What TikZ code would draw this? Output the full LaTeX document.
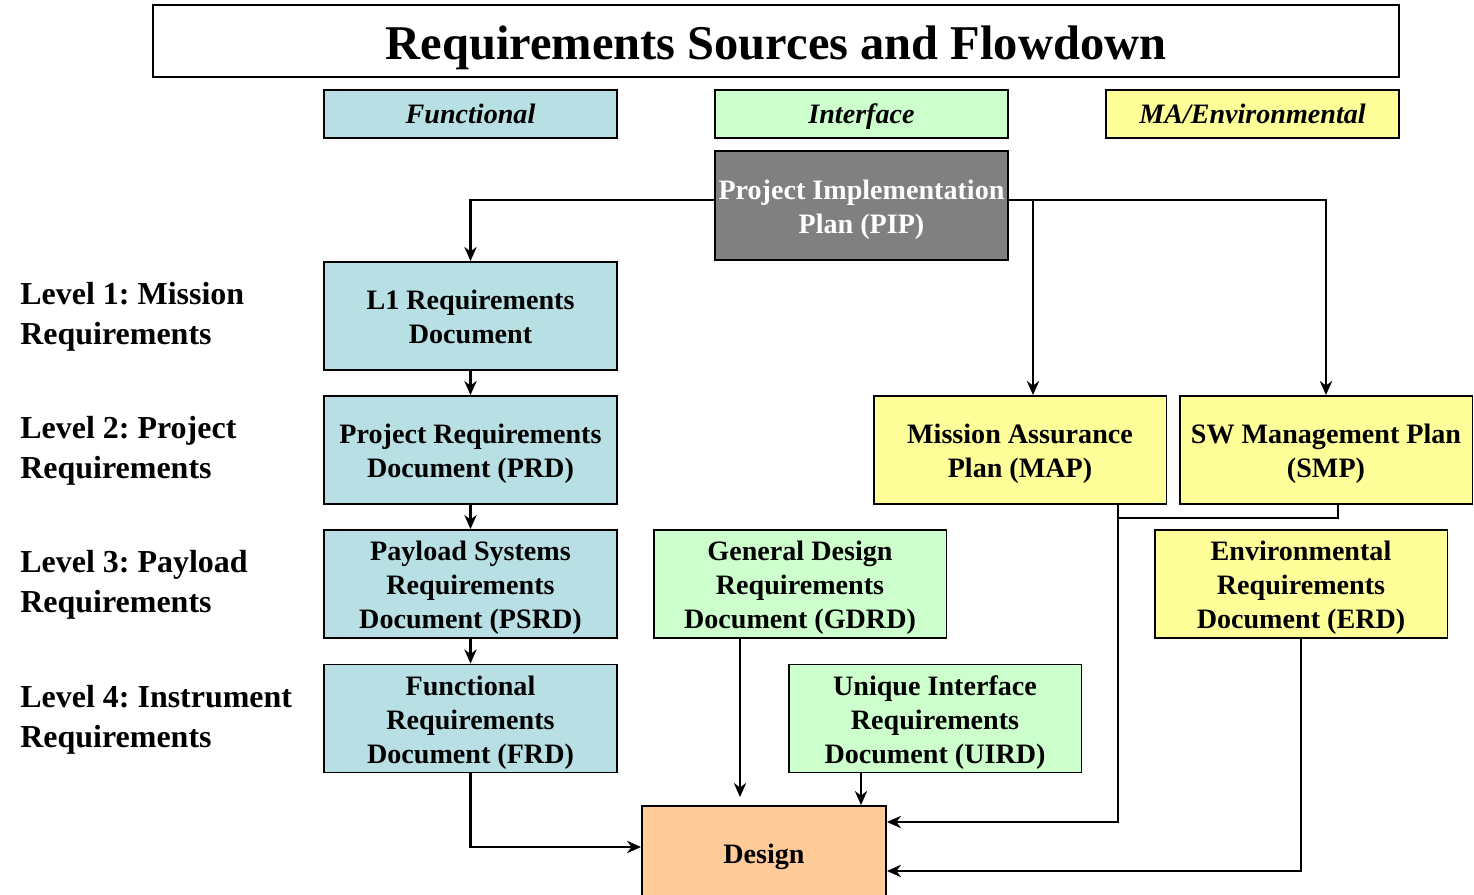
\documentclass[tikz,border=0pt]{standalone}
\usepackage{fontspec}
\setmainfont{Liberation Serif}
\usetikzlibrary{arrows.meta}
\frenchspacing

\definecolor{funcblue}{HTML}{B8DFE3}
\definecolor{ifgreen}{HTML}{CCFFCC}
\definecolor{envyellow}{HTML}{FFFF99}
\definecolor{pipgray}{HTML}{808080}
\definecolor{designorange}{HTML}{FFCC99}

\newcommand{\docstack}[1]{\raisebox{-6.6pt}[0pt][0pt]{\begin{tabular}{@{}c@{}}#1\end{tabular}}}

\tikzset{
	doc/.style={draw, line width=1.1pt, minimum width=5.86cm, minimum height=2.16cm,
		inner sep=0pt, font=\fontsize{16}{19.3}\selectfont\bfseries},
	head/.style={draw, line width=1.1pt, minimum width=5.86cm, minimum height=0.96cm,
		inner sep=0pt, text height=13pt, text depth=2pt,
		font=\fontsize{16}{19.3}\selectfont\bfseries\itshape},
	level/.style={anchor=west, align=left, inner sep=0pt, font=\fontsize{18.2}{22.7}\selectfont\bfseries},
	flow/.style={line width=1.4pt, -{Stealth[length=8pt,width=7pt]}},
	link/.style={line width=1.4pt}
}

\begin{document}
\begin{tikzpicture}[x=0.02cm,y=-0.02cm]
	\clip (0,0) rectangle (1474,894);
	\node[draw, line width=1.1pt, minimum width=24.92cm, minimum height=1.44cm, inner sep=0pt,
		text height=22.6pt, text depth=1pt,
		font=\fontsize{27.6}{32}\selectfont\bfseries] (title) at (776,41) {Requirements Sources and Flowdown};
	\node[head, fill=funcblue] (hfunc) at (470.5,114) {Functional};
	\node[head, fill=ifgreen] (hif) at (861.5,114) {Interface};
	\node[head, fill=envyellow] (hma) at (1252.5,114) {MA/Environmental};

	\node[doc, fill=pipgray, text=white, minimum height=2.18cm] (pip) at (861.5,205.5) {\docstack{Project Implementation\\Plan (PIP)}};
	\node[doc, fill=funcblue] (l1) at (470.5,316) {\docstack{L1 Requirements\\Document}};
	\node[doc, fill=funcblue] (prd) at (470.5,450) {\docstack{Project Requirements\\Document (PRD)}};
	\node[doc, fill=funcblue] (psrd) at (470.5,584) {\docstack{Payload Systems\\Requirements\\Document (PSRD)}};
	\node[doc, fill=funcblue] (frd) at (470.5,718.5) {\docstack{Functional\\Requirements\\Document (FRD)}};
	\node[doc, fill=envyellow] (map) at (1020,450) {\docstack{Mission Assurance\\Plan (MAP)}};
	\node[doc, fill=envyellow] (smp) at (1326,450) {\docstack{SW Management Plan\\(SMP)}};
	\node[doc, fill=ifgreen] (gdrd) at (800,584) {\docstack{General Design\\Requirements\\Document (GDRD)}};
	\node[doc, fill=envyellow] (erd) at (1301,584) {\docstack{Environmental\\Requirements\\Document (ERD)}};
	\node[doc, fill=ifgreen] (uird) at (935,718.5) {\docstack{Unique Interface\\Requirements\\Document (UIRD)}};
	\node[doc, fill=designorange, minimum width=4.88cm, minimum height=1.88cm] (design) at (764,853) {\docstack{Design}};

	\node[level] (lev1) at (20,317) {Level 1: Mission\\Requirements};
	\node[level] (lev2) at (20,451) {Level 2: Project\\Requirements};
	\node[level] (lev3) at (20,585) {Level 3: Payload\\Requirements};
	\node[level] (lev4) at (20,720) {Level 4: Instrument\\Requirements};

	\coordinate (pipl) at ([yshift=0.11cm]pip.west);
	\coordinate (pipr) at ([yshift=0.11cm]pip.east);
	\coordinate (mapin) at ([xshift=0.26cm]map.north);
	\coordinate (mapout) at ([xshift=1.96cm]map.south);
	\coordinate (smpout) at ([xshift=0.24cm]smp.south);
	\coordinate (gdend) at (740,797);

	\draw[flow] (pipl) -| (l1.north);
	\draw[flow] (pipr) -| (smp.north);
	\draw[flow] (pipr -| mapin) -- (mapin);
	\draw[flow] (l1.south) -- (prd.north);
	\draw[flow] (prd.south) -- (psrd.north);
	\draw[flow] (psrd.south) -- (frd.north);
	\draw[flow] (frd.south) |- ([yshift=0.12cm]design.west);
	\draw[flow] (gdend |- gdrd.south) -- (gdend);
	\draw[flow] ([xshift=-1.48cm]uird.south) -- ([xshift=-1.48cm]uird.south |- design.north);
	\draw[link] (smpout) -- ++(0,-0.26cm) -| (mapout);
	\draw[flow] (mapout) |- ([yshift=0.62cm]design.east);
	\draw[flow] (erd.south) |- ([yshift=-0.36cm]design.east);
\end{tikzpicture}
\end{document}
